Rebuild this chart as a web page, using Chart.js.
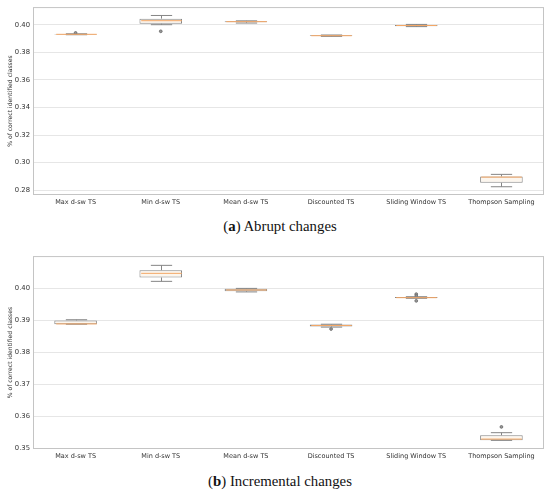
<!DOCTYPE html>
<html>
<head>
<meta charset="utf-8">
<script src="https://cdn.jsdelivr.net/npm/chart.js@4.4.0/dist/chart.umd.min.js"></script>
<style>
  html, body { margin: 0; padding: 0; background: #fff; }
  body { width: 550px; height: 494px; position: relative; overflow: hidden; }
  .panel { position: absolute; left: 0; width: 550px; }
  .caption {
    position: absolute; left: 0; width: 560px; text-align: center;
    font-family: "Liberation Serif", "DejaVu Serif", serif; font-size: 14.8px; color: #111;
  }
</style>
</head>
<body>
<div class="panel" style="top:0; height:212px;"><canvas id="abrupt"></canvas></div>
<div class="caption" style="top:218px;">(<b>a</b>) Abrupt changes</div>
<div class="panel" style="top:249px; height:217px;"><canvas id="incremental"></canvas></div>
<div class="caption" style="top:473px;">(<b>b</b>) Incremental changes</div>

<script>
// categories shared by both panels
var categories = ['Max d-sw TS', 'Min d-sw TS', 'Mean d-sw TS', 'Discounted TS', 'Sliding Window TS', 'Thompson Sampling'];

// (a) abrupt changes - box statistics per category
var abruptLow    = [0.3929, 0.4002, 0.4014, 0.3917, 0.3988, 0.2824];
var abruptQ1     = [0.3930, 0.4009, 0.4019, 0.3920, 0.3991, 0.2853];
var abruptMedian = [0.3932, 0.4031, 0.4024, 0.3922, 0.3996, 0.2894];
var abruptQ3     = [0.3934, 0.4046, 0.4027, 0.3925, 0.4000, 0.2899];
var abruptHigh   = [0.3936, 0.4069, 0.4030, 0.3927, 0.4004, 0.2914];
var abruptOutliers = [[0.3942], [0.3954], [], [], [], []];
var abruptTicks  = [0.28, 0.30, 0.32, 0.34, 0.36, 0.38, 0.40];

// (b) incremental changes
var incLow    = [0.3889, 0.4023, 0.3990, 0.3880, 0.3970, 0.3526];
var incQ1     = [0.3889, 0.4035, 0.3992, 0.3882, 0.3971, 0.3526];
var incMedian = [0.3890, 0.4048, 0.3996, 0.3885, 0.3972, 0.3530];
var incQ3     = [0.3901, 0.4058, 0.4000, 0.3888, 0.3974, 0.3542];
var incHigh   = [0.3903, 0.4073, 0.4001, 0.3889, 0.3975, 0.3550];
var incOutliers = [[], [], [], [0.3874], [0.3983, 0.3977, 0.3962], [0.3568]];
var incTicks  = [0.35, 0.36, 0.37, 0.38, 0.39, 0.40];

var EDGE = '#858585';
var MEDIAN = '#f3a766';

/**
 * Draws whiskers, caps and medians on top of the floating bars,
 * plus the frame around the plot area
 */
var boxPlugin = {
    id: 'boxWhiskers',
    afterDatasetsDraw: function(chart, args, opts) {
        var ctx = chart.ctx;
        var y = chart.scales.y;
        var meta = chart.getDatasetMeta(0);
        var area = chart.chartArea;

        ctx.save();
        ctx.lineWidth = 1;
        meta.data.forEach(function(el, i) {
            var x = Math.round(el.x) + 0.5;
            var half = el.width / 2;
            var cap = half / 2;

            ctx.strokeStyle = EDGE;
            ctx.beginPath();
            ctx.moveTo(x, y.getPixelForValue(opts.q3[i]));
            ctx.lineTo(x, y.getPixelForValue(opts.high[i]));
            ctx.moveTo(x, y.getPixelForValue(opts.q1[i]));
            ctx.lineTo(x, y.getPixelForValue(opts.low[i]));
            ctx.moveTo(x - cap, y.getPixelForValue(opts.high[i]));
            ctx.lineTo(x + cap, y.getPixelForValue(opts.high[i]));
            ctx.moveTo(x - cap, y.getPixelForValue(opts.low[i]));
            ctx.lineTo(x + cap, y.getPixelForValue(opts.low[i]));
            ctx.stroke();

            ctx.strokeStyle = MEDIAN;
            ctx.beginPath();
            ctx.moveTo(x - half + 1, y.getPixelForValue(opts.median[i]));
            ctx.lineTo(x + half - 1, y.getPixelForValue(opts.median[i]));
            ctx.stroke();
        });

        ctx.strokeStyle = '#c4c4c4';
        ctx.strokeRect(area.left + 0.5, area.top + 0.5, area.right - area.left - 1, area.bottom - area.top - 1);
        ctx.restore();
    }
};

function outlierPoints(list) {
    var pts = [];
    list.forEach(function(vals, i) {
        vals.forEach(function(v) {
            pts.push({ x: categories[i], y: v });
        });
    });
    return pts;
}

function renderBoxChart(id, low, q1, median, q3, high, outliers, ticks, yMin, yMax) {
    var ctx = document.getElementById(id).getContext('2d');
    var boxes = q1.map(function(v, i) { return [v, q3[i]]; });

    return new Chart(ctx, {
        type: 'bar',
        data: {
            labels: categories,
            datasets: [
                {
                    data: boxes,
                    backgroundColor: '#fcf6ee',
                    borderColor: EDGE,
                    borderWidth: 1,
                    borderSkipped: false,
                    barPercentage: 0.5,
                    categoryPercentage: 1
                },
                {
                    type: 'line',
                    data: outlierPoints(outliers),
                    showLine: false,
                    pointRadius: 1.4,
                    pointBorderWidth: 0.8,
                    pointBorderColor: '#666',
                    pointBackgroundColor: '#999'
                }
            ]
        },
        options: {
            responsive: true,
            maintainAspectRatio: false,
            animation: false,
            layout: { padding: { top: 6, right: 6, left: 0, bottom: 0 } },
            plugins: {
                legend: { display: false },
                tooltip: { enabled: false },
                boxWhiskers: { low: low, q1: q1, median: median, q3: q3, high: high }
            },
            scales: {
                x: {
                    offset: true,
                    grid: { display: false, drawTicks: false },
                    border: { display: false },
                    ticks: {
                        color: '#333',
                        padding: 3,
                        maxRotation: 0,
                        font: { family: 'DejaVu Sans', size: 6.5 }
                    },
                    afterFit: function(scale) { scale.height = 17; }
                },
                y: {
                    min: yMin,
                    max: yMax,
                    afterBuildTicks: function(scale) {
                        scale.ticks = ticks.map(function(v) { return { value: v }; });
                    },
                    grid: { color: '#e6e6e6', drawTicks: false, lineWidth: 1 },
                    border: { display: false },
                    ticks: {
                        color: '#333',
                        padding: 3,
                        font: { family: 'DejaVu Sans', size: 6.8 },
                        callback: function(v) { return Number(v).toFixed(2); }
                    },
                    title: {
                        display: true,
                        text: '% of correct identified classes',
                        color: '#333',
                        padding: { top: 7, bottom: 0 },
                        font: { family: 'DejaVu Sans', size: 6.1 }
                    },
                    afterFit: function(scale) { scale.width = 33; }
                }
            }
        },
        plugins: [boxPlugin]
    });
}

renderBoxChart('abrupt', abruptLow, abruptQ1, abruptMedian, abruptQ3, abruptHigh, abruptOutliers, abruptTicks, 0.2764, 0.4130);
renderBoxChart('incremental', incLow, incQ1, incMedian, incQ3, incHigh, incOutliers, incTicks, 0.3499, 0.4102);
</script>
</body>
</html>
